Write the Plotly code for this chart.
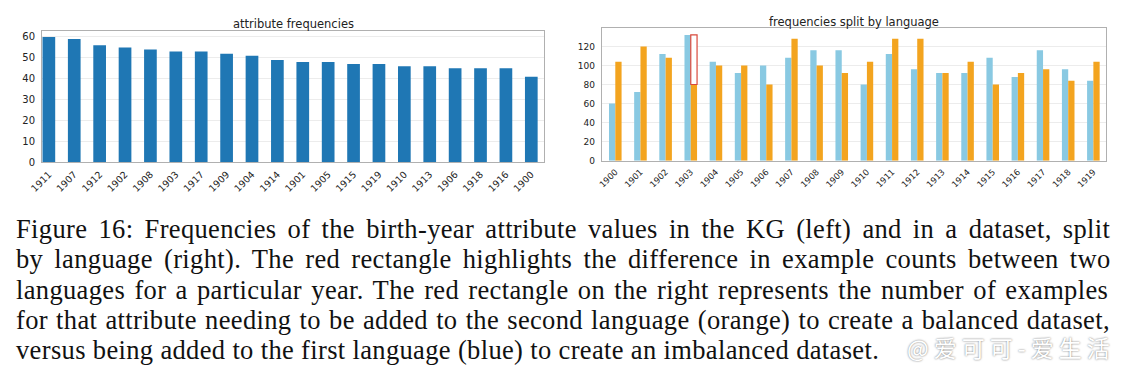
import plotly.graph_objects as go

# ---- data ----
kg_years = ["1911", "1907", "1912", "1902", "1908", "1903", "1917", "1909", "1904", "1914",
            "1901", "1905", "1915", "1919", "1910", "1913", "1906", "1918", "1916", "1900"]
kg_counts = [60, 59, 56, 55, 54, 53, 53, 52, 51, 49, 48, 48, 47, 47, 46, 46, 45, 45, 45, 41]

split_years = [str(y) for y in range(1900, 1920)]
lang1_counts = [60, 72, 112, 132, 104, 92, 100, 108, 116, 116,
                80, 112, 96, 92, 92, 108, 88, 116, 96, 84]
lang2_counts = [104, 120, 108, 80, 100, 100, 80, 128, 100, 92,
                104, 128, 128, 92, 104, 80, 92, 96, 84, 104]
highlight_year = "1903"

left_title = "attribute frequencies"
right_title = "frequencies split by language"

caption_lines = [
    "Figure 16: Frequencies of the birth-year attribute values in the KG (left) and in a dataset, split",
    "by language (right). The red rectangle highlights the difference in example counts between two",
    "languages for a particular year. The red rectangle on the right represents the number of examples",
    "for that attribute needing to be added to the second language (orange) to create a balanced dataset,",
    "versus being added to the first language (blue) to create an imbalanced dataset.",
]
caption_word_spacing = [4.2, 4.2, 2.3, 1.2, 0]
watermark = "@爱可可-爱生活"

# ---- figure ----
W, H = 1129, 374
BLUE = "#1f77b4"
SKY = "#89c9e2"
ORANGE = "#f3a41f"
FRAME = "#b0b0b0"
GRID = "#ececec"
FONT = "DejaVu Sans"

fig = go.Figure()

fig.add_trace(go.Bar(x=kg_years, y=kg_counts, marker=dict(color=BLUE, line=dict(width=0)),
                     xaxis="x", yaxis="y", showlegend=False))

fig.add_trace(go.Bar(x=split_years, y=lang1_counts, marker=dict(color=SKY, line=dict(width=0)),
                     xaxis="x2", yaxis="y2", offsetgroup="a", showlegend=False))
fig.add_trace(go.Bar(x=split_years, y=lang2_counts, marker=dict(color=ORANGE, line=dict(width=0)),
                     xaxis="x2", yaxis="y2", offsetgroup="b", showlegend=False))

hi = split_years.index(highlight_year)
fig.add_trace(go.Bar(x=[highlight_year], y=[lang1_counts[hi] - lang2_counts[hi]],
                     base=[lang2_counts[hi]],
                     marker=dict(color="white", line=dict(color="#d9483b", width=1.2)),
                     xaxis="x2", yaxis="y2", offsetgroup="b", showlegend=False))


def px_dom_x(a, b):
    return [a / W, b / W]


def px_dom_y(top, bottom):
    return [1 - bottom / H, 1 - top / H]


common_axis = dict(showline=True, linecolor=FRAME, linewidth=1, mirror=True,
                   zeroline=False, automargin=False)

fig.update_layout(
    template="none",
    width=W, height=H,
    margin=dict(l=0, r=0, t=0, b=0, pad=0, autoexpand=False),
    paper_bgcolor="white", plot_bgcolor="white",
    barmode="group", bargap=0.5, bargroupgap=0,
    font=dict(family=FONT, color="#222"),
    xaxis=dict(domain=px_dom_x(42, 544), anchor="y", type="category",
               categoryorder="array", categoryarray=kg_years,
               range=[-0.27, 19.5], tickangle=-45, showgrid=False,
               tickfont=dict(size=9.5, family=FONT, color="#222"),
               ticks="outside", ticklen=2, tickcolor="rgba(0,0,0,0)", **common_axis),
    yaxis=dict(domain=px_dom_y(30.7, 162.3), anchor="x", range=[0, 63],
               tickvals=[0, 10, 20, 30, 40, 50, 60], showgrid=True, gridcolor=GRID,
               tickfont=dict(size=10, family=FONT, color="#222"),
               ticks="outside", ticklen=4, tickcolor="rgba(0,0,0,0)", **common_axis),
    xaxis2=dict(domain=px_dom_x(601.7, 1105.7), anchor="y2", type="category",
                categoryorder="array", categoryarray=split_years,
                range=[-0.54, 19.49], tickangle=-45, showgrid=False,
                tickfont=dict(size=8.5, family=FONT, color="#222"),
                ticks="outside", ticklen=2, tickcolor="rgba(0,0,0,0)", **common_axis),
    yaxis2=dict(domain=px_dom_y(28.3, 160.7), anchor="x2", range=[0, 139],
                tickvals=[0, 20, 40, 60, 80, 100, 120], showgrid=True, gridcolor=GRID,
                tickfont=dict(size=9, family=FONT, color="#222"),
                ticks="outside", ticklen=4, tickcolor="rgba(0,0,0,0)", **common_axis),
)

annotations = [
    dict(text=left_title, x=293 / W, y=1 - 23.5 / H, xref="paper", yref="paper",
         xanchor="center", yanchor="middle", showarrow=False,
         font=dict(family=FONT, size=11.5, color="#222")),
    dict(text=right_title, x=853.7 / W, y=1 - 22 / H, xref="paper", yref="paper",
         xanchor="center", yanchor="middle", showarrow=False,
         font=dict(family=FONT, size=11.5, color="#222")),
]

line_y = [229, 259, 289.5, 319.5, 349.5]
for txt, yy, ws in zip(caption_lines, line_y, caption_word_spacing):
    annotations.append(dict(
        text='<span style="word-spacing:%.1fpx;letter-spacing:0.35px">%s</span>' % (ws, txt),
        x=14 / W, y=1 - yy / H, xref="paper", yref="paper",
        xanchor="left", yanchor="middle", showarrow=False,
        font=dict(family="Liberation Serif", size=26.5, color="#111")))

annotations.append(dict(text='<span style="letter-spacing:5px">%s</span>' % watermark,
                        x=1117 / W, y=1 - 347 / H, xref="paper", yref="paper",
                        xanchor="right", yanchor="middle", showarrow=False,
                        font=dict(family="Noto Sans CJK SC", size=23, color="#ffffff",
                                  shadow="0px 0px 2px #666")))

fig.update_layout(annotations=annotations)

fig.write_html("out.html", config={"displayModeBar": False},
               post_script="document.body.style.margin='0';document.body.style.padding='0';")
